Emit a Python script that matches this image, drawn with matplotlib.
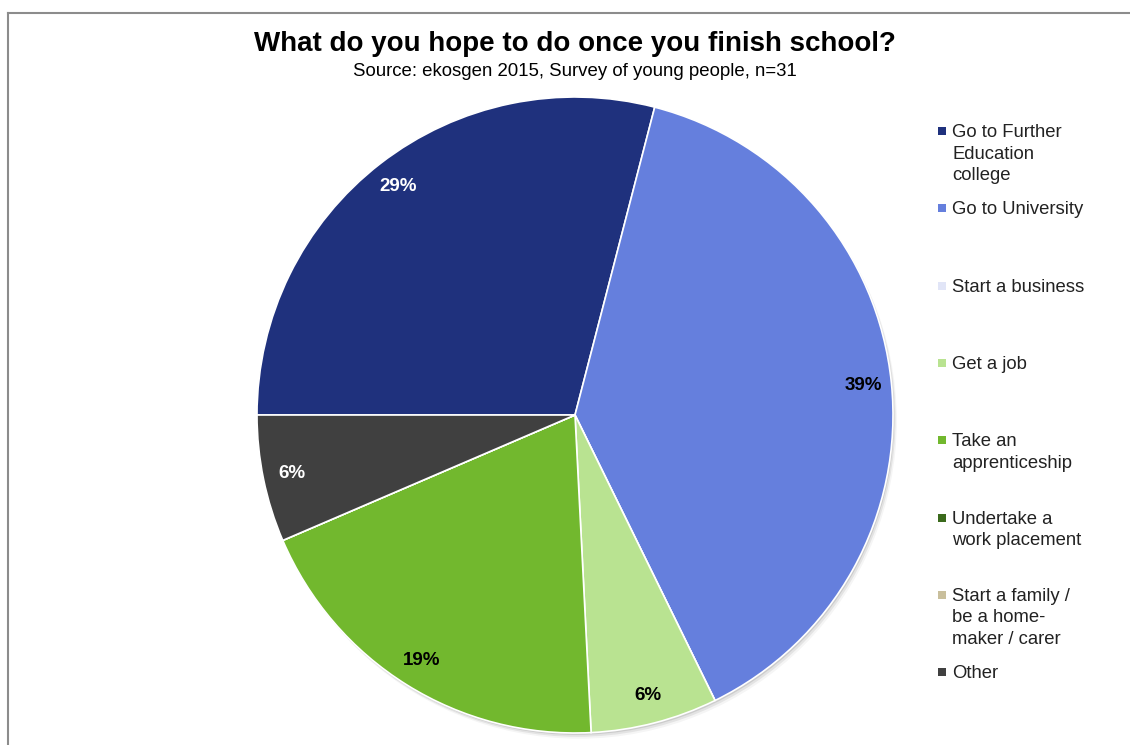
import matplotlib
matplotlib.use("Agg")
import matplotlib.pyplot as plt
import matplotlib.patches as mpatches
import numpy as np

plt.rcParams['font.family'] = ['Liberation Sans', 'DejaVu Sans']

# Survey responses (n=31), shares in percent
categories = ["Go to Further\nEducation\ncollege", "Go to University", "Start a business",
              "Get a job", "Take an\napprenticeship", "Undertake a\nwork placement",
              "Start a family /\nbe a home-\nmaker / carer", "Other"]
counts = [9, 12, 0, 2, 6, 0, 0, 2]
colors = ["#1f317d", "#657fdd", "#e1e5f7", "#b9e391", "#72b82e", "#3b6a1c", "#c9bf9c", "#404040"]
label_colors = ["white", "black", "black", "black", "black", "white", "black", "white"]

total = sum(counts)
shares = [100.0 * c / total for c in counts]

fig = plt.figure(figsize=(11.3, 7.45), dpi=100)
fig.patch.set_facecolor("white")

# chart area frame (top and left edges visible)
fig.add_artist(plt.Line2D([8/1130, 1.0], [1 - 12.5/745] * 2, color="#8c8c8c", lw=1.5))
fig.add_artist(plt.Line2D([8/1130] * 2, [0, 1 - 12.5/745], color="#8c8c8c", lw=1.5))

fig.text(575/1130, 1 - 44/745, "What do you hope to do once you finish school?",
         ha="center", va="center", fontsize=20, fontweight="bold")
fig.text(575/1130, 1 - 71/745, "Source: ekosgen 2015, Survey of young people, n=31",
         ha="center", va="center", fontsize=13.4)

ax = fig.add_axes([257/1130, 12/745, 636/1130, 636/745])

wedges, _ = ax.pie(shares, colors=colors, startangle=180, counterclock=False,
                   radius=1.0, wedgeprops=dict(edgecolor="white", linewidth=1.2))
for w in wedges:
    w.set_zorder(2)
ax.set_xlim(-1.0, 1.0)
ax.set_ylim(-1.0, 1.0)
ax.set_aspect("equal")
ax.axis("off")

# soft drop shadow under the pie
for i, a in enumerate([0.10, 0.07, 0.04]):
    ax.add_patch(mpatches.Circle((0.004 * (i + 1), -0.006 * (i + 1)), 1.0,
                                 facecolor="#000000", alpha=a, edgecolor="none",
                                 zorder=0, clip_on=False))

theta = 180.0
for s, lc in zip(shares, label_colors):
    span = s * 3.6
    mid = np.deg2rad(theta - span / 2)
    theta -= span
    if s == 0:
        continue
    r = 0.91
    ax.text(r * np.cos(mid), r * np.sin(mid), f"{s:.0f}%", ha="center", va="center",
            fontsize=13.5, fontweight="bold", color=lc, zorder=3)

# legend, one entry per category, top-aligned
for i, (cat, col) in enumerate(zip(categories, colors)):
    y = 131 + i * 77.3
    fig.add_artist(mpatches.Rectangle((938/1130, 1 - (y + 4)/745), 8/1130, 8/745,
                                      facecolor=col, edgecolor="none",
                                      transform=fig.transFigure))
    fig.text(952/1130, 1 - (y - 7)/745, cat, ha="left", va="top", fontsize=13.3,
             color="#222222", linespacing=1.35)

fig.savefig("out.png", dpi=100, facecolor="white")
